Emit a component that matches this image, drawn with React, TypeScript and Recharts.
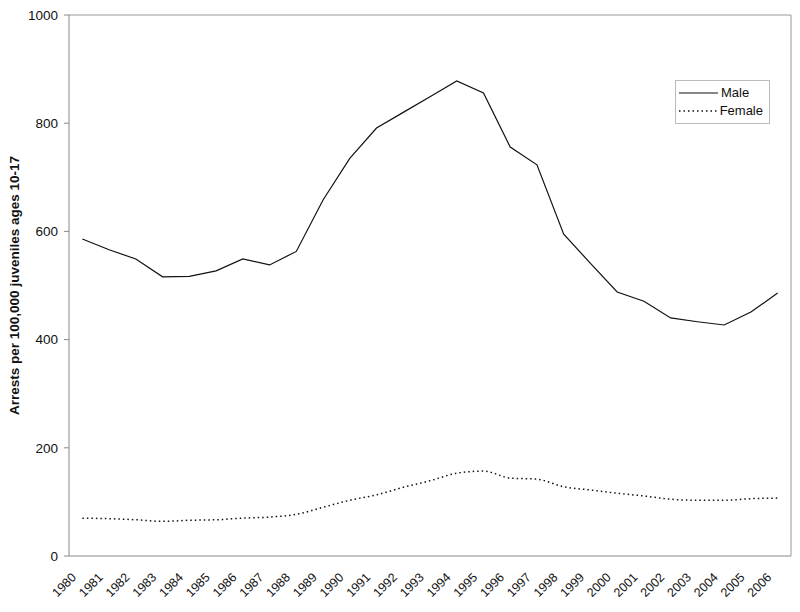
import React from 'react';
import { LineChart, Line, XAxis, YAxis, CartesianGrid } from 'recharts';

const years = ['1980','1981','1982','1983','1984','1985','1986','1987','1988','1989','1990','1991','1992','1993','1994','1995','1996','1997','1998','1999','2000','2001','2002','2003','2004','2005','2006'];
const male = [586,566,549,516,517,527,549,538,563,658,735,791,820,849,878,856,756,723,595,541,488,471,440,433,427,451,486];
const female = [70,69,67,64,66,67,70,72,77,90,103,113,127,139,153,157,144,142,128,122,116,111,105,103,103,106,107];
const yTicks = [0,200,400,600,800,1000];

const data = years.map((y, i) => ({ idx: i, year: y, male: male[i], female: female[i] }));
const labelTicks = years.map((_, i) => i);
const boundaryTicks = [...years.map((_, i) => i - 0.5), years.length - 0.5];

const FONT = '"Liberation Sans", Arial, sans-serif';

const YearTick = (props: any) => {
  const { x, y, payload } = props;
  const ax = x - 8.5;
  const ay = y + 10;
  return (
    <text
      x={ax}
      y={ay}
      transform={`rotate(-45, ${ax}, ${ay})`}
      textAnchor="end"
      fontSize={12.5}
      fontFamily={FONT}
      fill="#111"
      dy="0.35em"
    >
      {years[payload.value]}
    </text>
  );
};

const LegendBox = () => (
  <div
    style={{
      position: 'absolute',
      left: 675,
      top: 80,
      border: '1px solid #bbb',
      background: '#fff',
      padding: '3px 6px 3px 3px',
      fontFamily: FONT,
      fontSize: 13,
      color: '#111',
      lineHeight: '18px',
      width: 95,
      boxSizing: 'border-box',
    }}
  >
    <div style={{ display: 'flex', alignItems: 'center' }}>
      <svg width={40} height={10}><line x1={0} y1={5} x2={39} y2={5} stroke="#111" strokeWidth={1.2} /></svg>
      <span style={{ marginLeft: 2 }}>Male</span>
    </div>
    <div style={{ display: 'flex', alignItems: 'center' }}>
      <svg width={40} height={10}><line x1={0} y1={5} x2={39} y2={5} stroke="#111" strokeWidth={1.5} strokeDasharray="1.5 3" /></svg>
      <span style={{ marginLeft: 2 }}>Female</span>
    </div>
  </div>
);

export default function App() {
  return (
    <div style={{ position: 'absolute', left: 0, top: 0, width: 800, height: 612, background: '#fff' }}>
      <LineChart width={800} height={612} data={data} margin={{ top: 14, right: 8, bottom: 54, left: 0 }}>
        <CartesianGrid vertical={false} stroke="#e0e0e0" horizontalValues={[200, 400, 600, 800]} />
        <XAxis
          xAxisId="bnd"
          dataKey="idx"
          type="number"
          domain={[-0.5, years.length - 0.5]}
          ticks={boundaryTicks}
          interval={0}
          tick={false}
          tickSize={5}
          tickLine={{ stroke: '#888' }}
          axisLine={{ stroke: '#888' }}
          height={1}
        />
        <XAxis
          xAxisId="lab"
          dataKey="idx"
          type="number"
          domain={[-0.5, years.length - 0.5]}
          ticks={labelTicks}
          interval={0}
          tick={<YearTick />}
          tickLine={false}
          axisLine={false}
          height={1}
        />
        <XAxis xAxisId="top" orientation="top" dataKey="idx" type="number" domain={[-0.5, years.length - 0.5]} tick={false} tickLine={false} axisLine={{ stroke: '#999' }} height={1} />
        <YAxis
          yAxisId="l"
          domain={[0, 1000]}
          ticks={yTicks}
          interval={0}
          width={69}
          tickSize={5}
          tickMargin={6}
          tick={{ fontSize: 13.5, fontFamily: FONT, fill: '#111' }}
          tickLine={{ stroke: '#888' }}
          axisLine={{ stroke: '#888' }}
          label={{ value: 'Arrests per 100,000 juveniles ages 10-17', angle: -90, position: 'insideLeft', offset: 14, style: { fontSize: 13.5, fontWeight: 'bold', fontFamily: FONT, fill: '#111', textAnchor: 'middle' } }}
        />
        <YAxis yAxisId="r" orientation="right" domain={[0, 1000]} tick={false} tickLine={false} axisLine={{ stroke: '#999' }} width={1} />
        <Line xAxisId="lab" yAxisId="l" dataKey="male" type="linear" stroke="#111" strokeWidth={1.2} dot={false} isAnimationActive={false} />
        <Line xAxisId="lab" yAxisId="l" dataKey="female" type="monotone" stroke="#111" strokeWidth={1.5} strokeDasharray="1.5 3" dot={false} isAnimationActive={false} />
      </LineChart>
      <LegendBox />
    </div>
  );
}
